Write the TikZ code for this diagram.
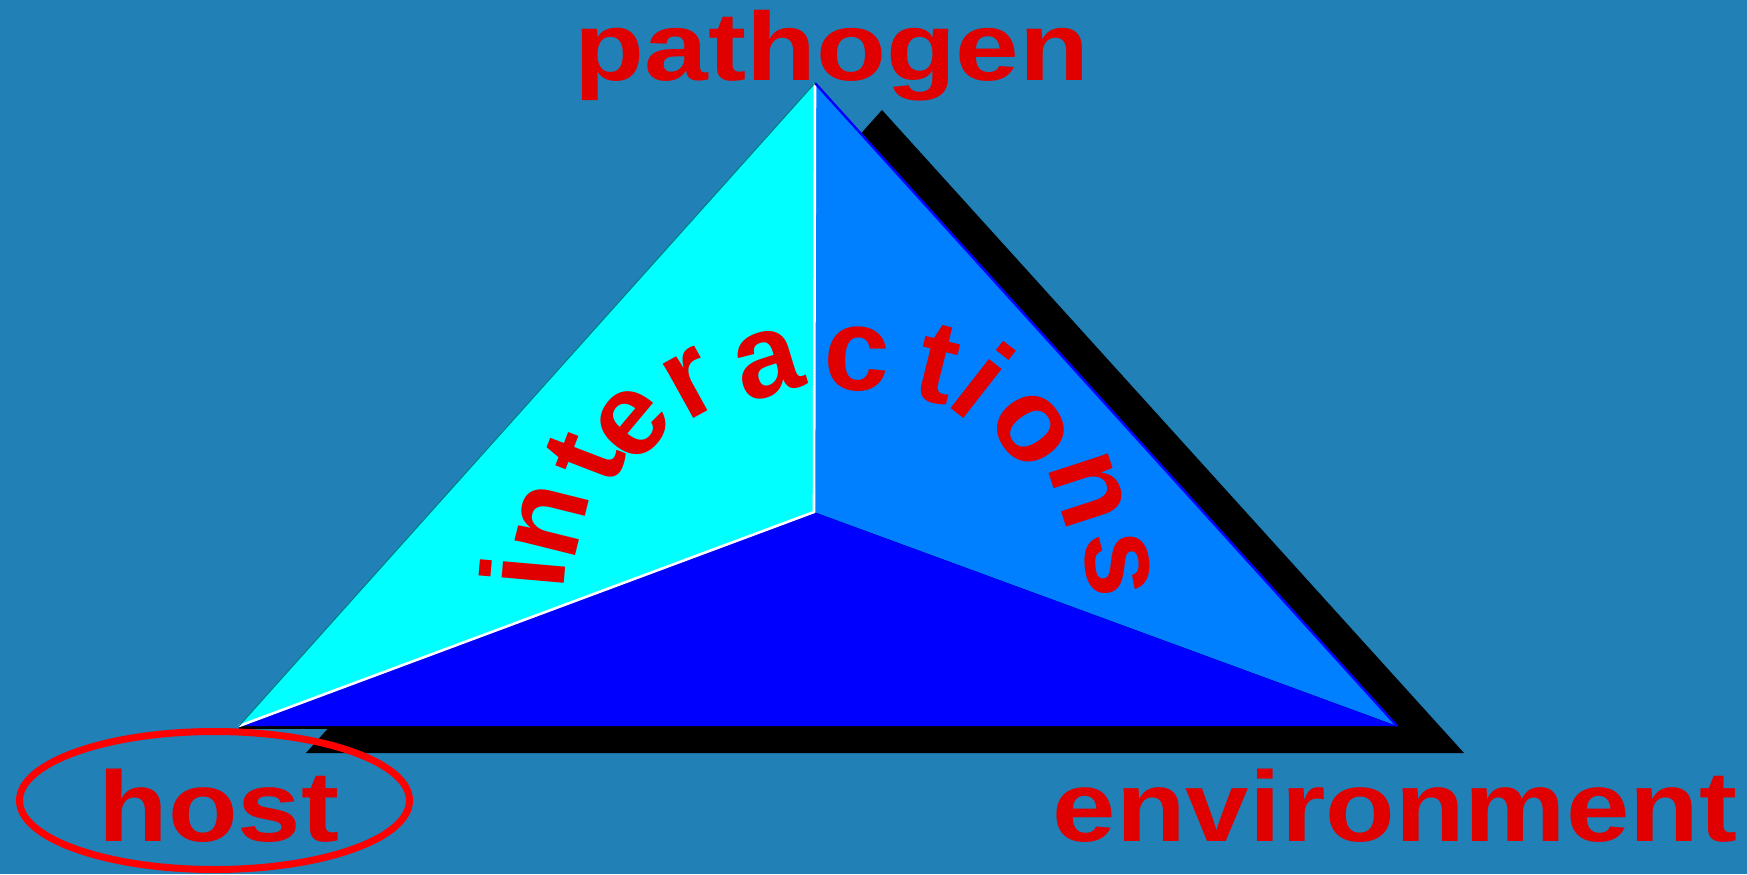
\documentclass[tikz,border=0pt]{standalone}
\usepackage{fontspec}
\setmainfont{Liberation Sans}
\definecolor{bg}{RGB}{33,128,182}
\definecolor{txtred}{RGB}{224,0,0}
\definecolor{ellred}{RGB}{255,0,0}
\definecolor{faceL}{RGB}{0,255,255}
\definecolor{faceR}{RGB}{0,128,255}
\definecolor{faceB}{RGB}{0,0,255}
\definecolor{edgeL}{RGB}{0,128,128}
\begin{document}
\begin{tikzpicture}[x=0.5pt,y=-0.5pt,
  word/.style={inner sep=0pt,outer sep=0pt,text=txtred,font=\bfseries\fontsize{50}{50}\selectfont,anchor=base},
  arcletter/.style={inner sep=0pt,outer sep=0pt,text=txtred,font=\bfseries\fontsize{59}{59}\selectfont}]
\fill[bg] (0,0) rectangle (1747,874);
\useasboundingbox (0,0) rectangle (1747,874);
\coordinate (A) at (815,83);
\coordinate (L) at (239,726);
\coordinate (R) at (1397,726);
\coordinate (C) at (814,512);
% shadow
\fill[black] ([shift={(67,27)}]A) -- ([shift={(67,27)}]L) -- ([shift={(67,27)}]R) -- cycle;
\draw[black,line width=1.5pt] ([shift={(0,1.5)}]L) -- ([shift={(0,1.5)}]R);
% faces
\fill[faceL] (A) -- (L) -- (C) -- cycle;
\fill[faceR] (A) -- (C) -- (R) -- cycle;
\fill[faceB] (L) -- (C) -- (R) -- cycle;
\draw[white,line width=1.3pt] (A) -- (C) -- (L);
\draw[faceB,line width=1.2pt] (A) -- (R);
\draw[edgeL,line width=0.5pt] (A) -- (L);
% labels
\node[word,font=\bfseries\fontsize{48.5}{48.5}\selectfont] (pathogen) at (832,80.7) {\scalebox{1.18}[1]{pathogen}};
\node[word] (host) at (219,841) {\scalebox{1.14}[1]{host}};
\node[word] (environment) at (1395,841) {\scalebox{1.14}[1]{environment}};
\draw[ellred,line width=3.5pt] (214.5,800.5) ellipse [x radius=195, y radius=69];
% interactions
\node[arcletter,rotate=85] (l1) at (522.5,571.5) {i};
\node[arcletter,rotate=76] (l2) at (551.5,521) {n};
\node[arcletter,rotate=69] (l3) at (585,458) {t};
\node[arcletter,rotate=50] (l4) at (632.5,423) {e};
\node[arcletter,rotate=29] (l5) at (691.5,384) {r};
\node[arcletter,rotate=17] (l6) at (767.5,364.5) {a};
\node[arcletter,rotate=-3] (l7) at (857,359.5) {c};
\node[arcletter,rotate=-14] (l8) at (937.5,364) {t};
\node[arcletter,rotate=-38] (l9) at (984,380) {i};
\node[arcletter,rotate=-55] (l10) at (1030.5,429.5) {o};
\node[arcletter,rotate=-72] (l11) at (1088,489.5) {n};
\node[arcletter,rotate=-85] (l12) at (1117,564.5) {s};
\end{tikzpicture}
\end{document}
